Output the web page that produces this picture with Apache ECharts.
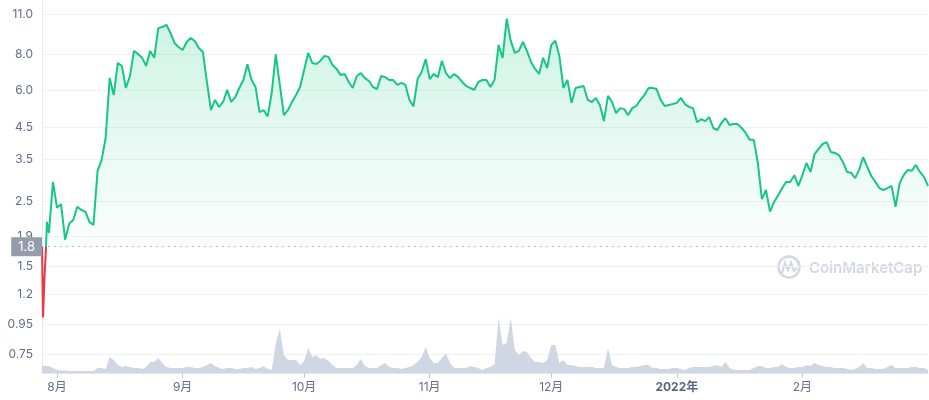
<!DOCTYPE html>
<html><head><meta charset="utf-8">
<script src="https://cdn.jsdelivr.net/npm/echarts@6/dist/echarts.min.js"></script>
<style>html,body{margin:0;padding:0;background:#fff}#c{width:929px;height:400px}</style>
</head><body><div id="c"></div>
<script>
// Launch-day intraday points
const launchTimes = ['2021-07-28 07:00','2021-07-28 13:00','2021-07-28 22:00','2021-07-29 06:00','2021-07-29 12:00'];
const launchPrices = [1.75, 1.00, 1.38, 1.70, 2.13];
const launchVolumes = [14, 14, 14, 14, 14];
// Daily points starting 2021-07-30
const dailyStart = [2021, 6, 30];
const prices = [
  1.95, 2.92, 2.38, 2.45, 1.85, 2.10, 2.16, 2.40, 2.34, 2.31,
  2.13, 2.08, 3.18, 3.47, 4.13, 6.63, 5.80, 7.47, 7.30, 6.13,
  6.74, 8.22, 8.02, 7.78, 7.30, 8.22, 7.78, 9.84, 9.92, 10.10,
  9.47, 8.75, 8.48, 8.28, 8.82, 9.10, 8.89, 8.41, 8.15, 6.43,
  5.15, 5.58, 5.28, 5.49, 6.04, 5.49, 5.71, 6.13, 6.53, 7.40,
  6.55, 6.18, 5.07, 5.15, 4.90, 5.90, 8.00, 6.28, 4.95, 5.15,
  5.49, 5.80, 6.18, 7.07, 8.09, 7.47, 7.41, 7.59, 7.90, 7.84,
  7.35, 7.13, 6.79, 6.85, 6.43, 6.13, 6.74, 6.90, 6.63, 6.48,
  6.18, 6.08, 6.74, 6.68, 6.53, 6.53, 6.28, 6.38, 6.28, 5.58,
  5.30, 6.58, 6.96, 7.70, 6.58, 6.85, 6.68, 7.59, 6.90, 6.63,
  6.85, 6.68, 6.43, 6.23, 6.13, 6.04, 6.43, 6.53, 6.53, 6.18,
  6.53, 8.61, 7.78, 10.60, 8.90, 8.09, 8.22, 8.82, 8.22, 7.53,
  7.13, 6.85, 7.78, 7.18, 8.61, 8.90, 7.90, 6.13, 6.53, 5.45,
  6.13, 6.18, 6.23, 5.58, 5.49, 5.67, 5.36, 4.72, 5.76, 5.49,
  5.03, 5.23, 5.19, 4.95, 5.23, 5.32, 5.58, 5.80, 6.13, 6.13,
  6.08, 5.58, 5.32, 5.36, 5.40, 5.45, 5.67, 5.40, 5.28, 5.23,
  4.68, 4.79, 4.72, 4.87, 4.47, 4.40, 4.65, 4.83, 4.58, 4.61,
  4.61, 4.47, 4.30, 4.07, 4.07, 3.39, 2.55, 2.74, 2.31, 2.49,
  2.63, 2.78, 2.92, 2.92, 3.08, 2.83, 3.08, 3.39, 3.16, 3.64,
  3.79, 3.94, 4.00, 3.70, 3.67, 3.61, 3.42, 3.16, 3.14, 3.01,
  3.21, 3.55, 3.29, 3.06, 2.92, 2.78, 2.74, 2.78, 2.83, 2.40,
  2.89, 3.08, 3.21, 3.19, 3.34, 3.16, 3.04, 2.83
];
const volumes = [
  14, 10, 6, 5, 5, 4, 4, 4, 4, 4,
  4, 4, 10, 10, 8, 32, 26, 16, 12, 14,
  12, 10, 10, 8, 12, 22, 22, 30, 20, 12,
  10, 10, 10, 10, 12, 12, 10, 10, 12, 16,
  20, 14, 10, 8, 10, 10, 8, 8, 10, 10,
  12, 8, 10, 14, 8, 6, 60, 88, 36, 26,
  26, 26, 16, 24, 50, 32, 36, 28, 30, 24,
  16, 10, 10, 10, 10, 10, 16, 28, 14, 10,
  10, 10, 16, 20, 12, 10, 10, 8, 10, 12,
  16, 22, 32, 52, 30, 20, 20, 30, 40, 20,
  10, 10, 10, 10, 14, 12, 10, 6, 10, 12,
  18, 110, 56, 60, 110, 46, 36, 44, 42, 30,
  22, 22, 20, 26, 56, 56, 20, 26, 16, 16,
  14, 12, 12, 12, 12, 10, 10, 10, 50, 16,
  12, 10, 10, 10, 12, 12, 14, 16, 16, 10,
  10, 8, 8, 8, 10, 10, 8, 6, 10, 12,
  12, 12, 12, 12, 14, 16, 12, 22, 10, 6,
  6, 6, 6, 6, 10, 14, 14, 10, 10, 12,
  12, 18, 12, 10, 10, 12, 12, 16, 14, 20,
  16, 14, 12, 12, 10, 10, 10, 8, 6, 8,
  12, 20, 10, 10, 8, 8, 8, 12, 16, 10,
  10, 10, 10, 12, 12, 10, 10, 6
];
const openPrice = 1.75;
const yTicks = [0.75, 0.95, 1.2, 1.5, 1.9, 2.5, 3.5, 4.5, 6.0, 8.0, 11.0];
const monthTicks = ['2021-08-01', '2021-09-01', '2021-10-01', '2021-11-01', '2021-12-01', '2022-01-01', '2022-02-01'];

function ts(s) {
  const parts = s.split(' ');
  const d = parts[0].split('-').map(Number);
  const t = (parts[1] || '00:00').split(':').map(Number);
  return new Date(d[0], d[1] - 1, d[2], t[0], t[1]).getTime();
}
const times = launchTimes.map(ts);
for (let i = 0; i < prices.length; i++) {
  times.push(new Date(dailyStart[0], dailyStart[1], dailyStart[2] + i).getTime());
}
const allPrices = launchPrices.concat(prices);
const allVolumes = launchVolumes.concat(volumes);
const priceData = times.map((t, i) => [t, allPrices[i]]);
const volumeData = times.map((t, i) => [t, allVolumes[i]]);
const tMin = times[0], tMax = times[times.length - 1];
const monthVals = monthTicks.map(ts);

const chart = echarts.init(document.getElementById('c'), null, { renderer: 'canvas' });
const axisColor = '#e3e7ec';
const labelColor = '#616e85';
chart.setOption({
  animation: false,
  textStyle: { fontFamily: 'Inter, "Noto Sans CJK SC", sans-serif' },
  grid: [
    { left: 42, right: 1, top: 0, bottom: 27 },
    { left: 42, right: 1, top: 300, bottom: 27 }
  ],
  xAxis: [
    {
      type: 'value', gridIndex: 0, min: tMin, max: tMax, scale: true,
      axisLine: { show: true, lineStyle: { color: axisColor } },
      axisTick: { show: true, customValues: monthVals, length: 5, lineStyle: { color: '#c5cbd5' } },
      splitLine: { show: false },
      axisLabel: {
        customValues: monthVals, color: labelColor, fontSize: 12, margin: 8,
        formatter: function (v) {
          const d = new Date(v);
          if (d.getMonth() === 0) return '{b|' + d.getFullYear() + '年}';
          return (d.getMonth() + 1) + '月';
        },
        rich: { b: { fontWeight: 'bold', color: '#58667e', fontSize: 12 } }
      }
    },
    { type: 'value', gridIndex: 1, min: tMin, max: tMax, scale: true, show: false }
  ],
  yAxis: [
    {
      type: 'log', gridIndex: 0, min: 0.6455, max: 12.286,
      axisLine: { show: true, lineStyle: { color: axisColor } },
      axisTick: { show: false, customValues: yTicks },
      splitLine: { show: true, lineStyle: { color: '#eff2f5', width: 1 } },
      axisLabel: {
        customValues: yTicks, color: labelColor, fontSize: 12, margin: 9,
        formatter: function (v) { return v < 1 ? v.toFixed(2) : v.toFixed(1); }
      }
    },
    { type: 'value', gridIndex: 1, min: 0, max: 146, show: false }
  ],
  visualMap: {
    type: 'piecewise', show: false, seriesIndex: 0, dimension: 1,
    pieces: [
      { gte: 0.1, lt: openPrice, color: '#ea3943' },
      { gte: openPrice, lte: 100, color: '#16c784' }
    ]
  },
  series: [
    {
      type: 'line', xAxisIndex: 0, yAxisIndex: 0, data: priceData,
      showSymbol: false, symbol: 'none', z: 3,
      lineStyle: { width: 2 },
      areaStyle: {
        origin: openPrice,
        color: new echarts.graphic.LinearGradient(0, 20, 0, 246, [
          { offset: 0, color: 'rgba(22,199,132,0.30)' },
          { offset: 1, color: 'rgba(22,199,132,0.02)' }
        ], true)
      },
      markLine: {
        silent: true, symbol: ['none', 'none'],
        lineStyle: { color: '#a1a7b5', type: [1.5, 4.5], width: 1.2 },
        label: {
          position: 'start', distance: 0,
          formatter: function () { return openPrice.toFixed(1); },
          backgroundColor: '#959dab', color: '#ffffff', fontSize: 13,
          padding: [2, 7, 2, 7], lineHeight: 15
        },
        data: [{ yAxis: openPrice }]
      }
    },
    {
      type: 'line', xAxisIndex: 1, yAxisIndex: 1, data: volumeData,
      showSymbol: false, symbol: 'none', z: 1,
      lineStyle: { width: 0 },
      itemStyle: { color: '#cfd6e4' },
      areaStyle: { color: '#cfd6e4', opacity: 1 }
    }
  ],
  graphic: [
    { type: 'circle', silent: true, shape: { cx: 789, cy: 267, r: 10.5 }, style: { fill: 'none', stroke: '#d2d8e2', lineWidth: 2.5 } },
    { type: 'polyline', silent: true, shape: { points: [[782, 273], [785, 263], [788, 270], [791, 263], [794, 271], [797, 268]] }, style: { fill: 'none', stroke: '#d2d8e2', lineWidth: 2.2 } },
    { type: 'text', silent: true, x: 809, y: 268, style: { text: 'CoinMarketCap', fontSize: 15, fontWeight: 600, fontFamily: 'Inter', fill: '#d2d8e2', verticalAlign: 'middle' } }
  ]
});
</script>
</body></html>
